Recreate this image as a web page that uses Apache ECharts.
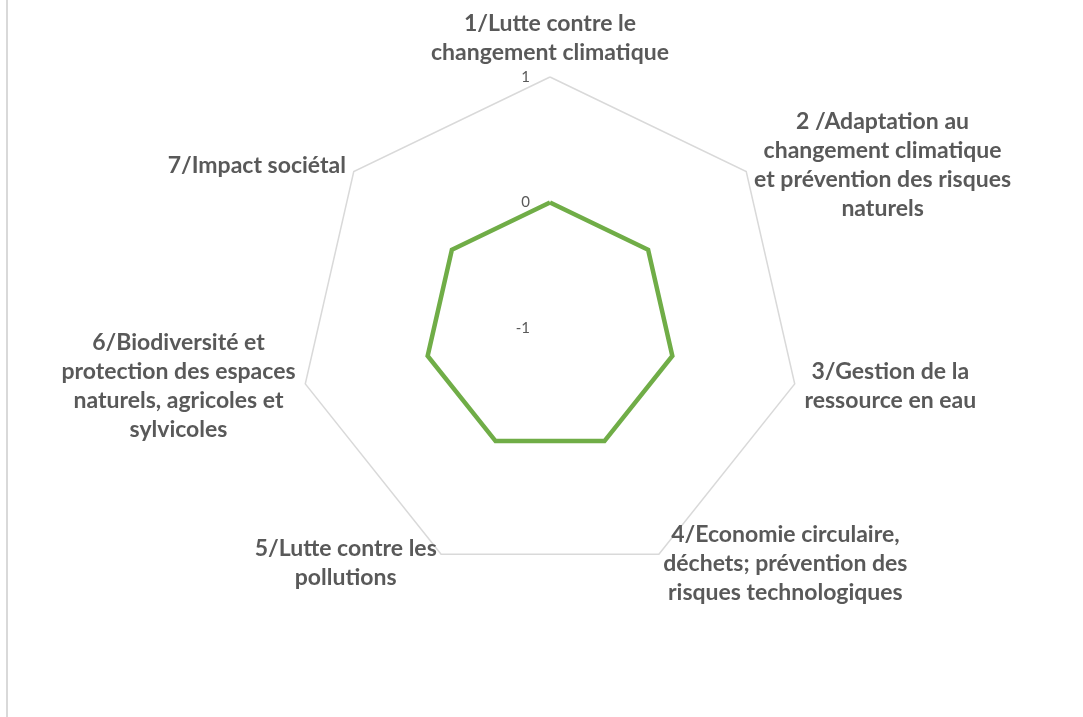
<!DOCTYPE html>
<html>
<head>
<meta charset="utf-8">
<script src="https://cdn.jsdelivr.net/npm/echarts@6/dist/echarts.min.js"></script>
<style>
  html, body { margin: 0; padding: 0; background: #ffffff; }
  #chart { width: 1083px; height: 717px; position: absolute; left: 0; top: 0; }
  #frame { position: absolute; left: 6px; top: 0; width: 0; height: 717px; border-left: 2px solid #d9d9d9; }
</style>
</head>
<body>
<div id="chart"></div>
<div id="frame"></div>
<script>
// ---- data ----
const categories = [
  "1/Lutte contre le\nchangement climatique",
  "2 /Adaptation au\nchangement climatique\net prévention des risques\nnaturels",
  "3/Gestion de la\nressource en eau",
  "4/Economie circulaire,\ndéchets; prévention des\nrisques technologiques",
  "5/Lutte contre les\npollutions",
  "6/Biodiversité et\nprotection des espaces\nnaturels, agricoles et\nsylvicoles",
  "7/Impact sociétal"
];
const seriesValues = [0, 0, 0, 0, 0, 0, 0];
const axisMin = -1;
const axisMax = 1;
const tickLabels = ["-1", "0", "1"];

// ECharts lays radar indicators out counter-clockwise; the reference goes clockwise.
const order = categories.map((_, i) => (i === 0 ? 0 : categories.length - i));

const chart = echarts.init(document.getElementById('chart'), null, { renderer: 'canvas' });

const indicators = order.map((k, i) => {
  const ind = { name: categories[k], min: axisMin, max: axisMax };
  if (i === 0) {
    ind.axisLabel = { show: true };
  }
  return ind;
});
const orderedValues = order.map(k => seriesValues[k]);

const nameFont = {
  fontFamily: 'Lato',
  fontWeight: 'bold',
  fontSize: 23,
  color: '#595959',
  lineHeight: 29,
  align: 'center'
};

chart.setOption({
  animation: false,
  backgroundColor: '#ffffff',
  radar: {
    center: [550, 328],
    radius: 251,
    startAngle: 90,
    shape: 'polygon',
    splitNumber: 2,
    nameGap: 10,
    indicator: indicators,
    axisName: {
      formatter: function (name) {
        return name.split('\n').map(l => '{c|' + l + '}').join('\n');
      },
      fontFamily: 'Lato',
      fontWeight: 'bold',
      fontSize: 23,
      color: '#595959',
      lineHeight: 29,
      rich: { c: nameFont }
    },
    axisLine: { show: false },
    axisTick: { show: false },
    axisLabel: {
      show: false,
      showMinLabel: true,
      showMaxLabel: true,
      margin: 20,
      fontFamily: 'Lato',
      fontSize: 15,
      color: '#595959',
      formatter: function (v) {
        const idx = Math.round(v - axisMin);
        return tickLabels[idx] !== undefined ? tickLabels[idx] : String(v);
      }
    },
    splitLine: { show: true, lineStyle: { color: '#d9d9d9', width: 1.5 } },
    splitArea: { show: false }
  },
  series: [{
    type: 'radar',
    symbol: 'none',
    lineStyle: { color: '#70AD47', width: 4.5, join: 'miter' },
    itemStyle: { color: '#70AD47' },
    data: [{ value: orderedValues, name: 'Série' }]
  }]
});
</script>
</body>
</html>
